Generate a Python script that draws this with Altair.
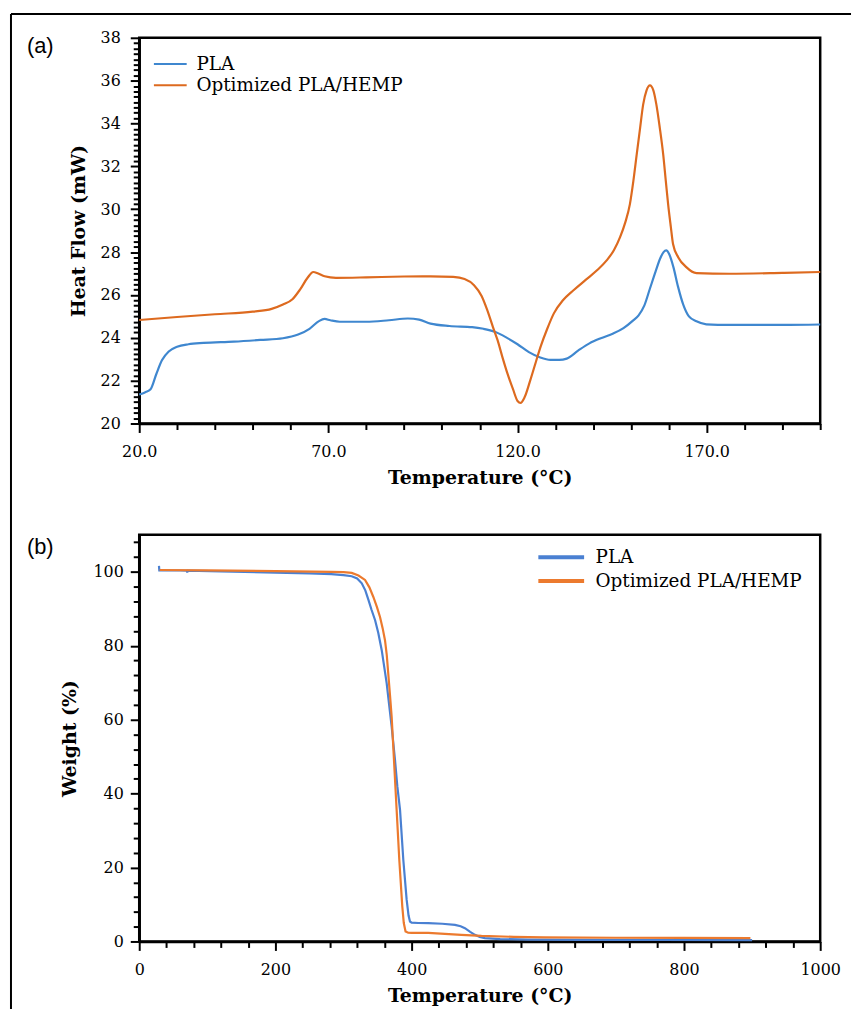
import altair as alt
import pandas as pd

# ---------------- data ----------------
series_names = ["PLA", "Optimized PLA/HEMP"]

# (a) DSC
dsc_pla_t = [20, 21.5, 23, 24.5, 26, 27.8, 30, 33, 37, 45, 52, 58, 62, 65, 67.5, 69, 70.5, 73,
             80, 86, 91, 94, 97, 102, 108, 111, 114, 117, 120, 123, 126, 128.7, 131, 133, 136,
             139, 142, 145.3, 148, 150.5, 152, 153.5, 155, 156.5, 157.7, 158.6, 159.3, 160.1,
             161.2, 162.4, 163.8, 165.3, 167.3, 169.9, 176, 190, 200]
dsc_pla_hf = [21.35, 21.45, 21.6, 22.3, 22.95, 23.36, 23.58, 23.7, 23.76, 23.82, 23.9, 23.98,
              24.15, 24.42, 24.78, 24.88, 24.82, 24.75, 24.75, 24.82, 24.9, 24.85, 24.66, 24.55,
              24.5, 24.42, 24.28, 24.02, 23.7, 23.33, 23.08, 22.97, 22.97, 23.03, 23.4, 23.74,
              23.98, 24.2, 24.45, 24.8, 25.05, 25.5, 26.3, 27.1, 27.7, 28.0, 28.08, 27.9,
              27.3, 26.4, 25.55, 25.0, 24.77, 24.63, 24.6, 24.6, 24.62]
dsc_hemp_t = [20, 30, 40, 50, 55, 58, 60.5, 62.5, 64.5, 66, 67.3, 69, 72, 80, 90, 97, 103, 106,
              108.5, 110.5, 112, 113.5, 114.7, 116, 117.3, 118.8, 120, 120.8, 121.8, 123.4,
              124.8, 126.1, 127.8, 129.6, 132, 134.8, 138, 141, 143.5, 145.5, 147.1, 148.5,
              149.7, 150.6, 151.5, 152.4, 153.2, 154.1, 155, 155.9, 156.7, 157.6, 158.5, 159.2,
              159.8, 160.5, 161.1, 162.5, 164.6, 167.3, 176, 190, 200]
dsc_hemp_hf = [24.83, 24.97, 25.1, 25.22, 25.35, 25.55, 25.8, 26.25, 26.8, 27.07, 27.0, 26.87,
               26.8, 26.82, 26.86, 26.87, 26.84, 26.74, 26.45, 25.95, 25.29, 24.5, 23.9, 23.1,
               22.35, 21.6, 21.05, 20.96, 21.2, 22.04, 22.85, 23.59, 24.4, 25.14, 25.75, 26.22,
               26.7, 27.15, 27.6, 28.1, 28.7, 29.4, 30.24, 31.3, 32.56, 33.8, 34.88, 35.55,
               35.78, 35.55, 34.88, 33.8, 32.56, 31.3, 30.24, 29.2, 28.38, 27.75, 27.3, 27.02,
               26.99, 27.03, 27.07]

# (b) TGA
tga_pla_t = [29, 29.5, 60, 70, 70.5, 71, 120, 200, 250, 282, 300, 312, 320, 326.8, 332, 336.6,
             341, 346.4, 351, 356.1, 360, 363.4, 367, 370.7, 375.6, 379, 383, 387.8, 392.7,
             395.5, 397.6, 400, 409.7, 424.5, 445, 463.7, 472, 478.3, 486, 493, 500, 507.6,
             530, 571, 650, 766, 900]
tga_pla_w = [101.6, 100.4, 100.35, 100.3, 99.8, 100.3, 100.1, 99.8, 99.6, 99.4, 99.1, 98.8,
             98.2, 96.9, 95.0, 92.4, 89.8, 86.9, 83.5, 78.8, 74.0, 69.8, 64.0, 58.1, 49.1, 42.0,
             35.6, 22.1, 11.3, 7.0, 5.4, 5.1, 5.0, 4.97, 4.8, 4.5, 4.1, 3.6, 2.6, 1.8, 1.2, 0.9,
             0.65, 0.5, 0.45, 0.4, 0.38]
tga_hemp_t = [30, 100, 200, 282, 300, 312, 322, 331.6, 338, 343.8, 349, 353.6, 357.5, 360.9,
              363.5, 365.7, 368.3, 370.7, 374.1, 378, 381.9, 386.3, 388.5, 391.1, 395, 400,
              424.5, 473, 502.6, 550, 595, 700, 800, 897.5]
tga_hemp_w = [100.5, 100.4, 100.2, 100.0, 99.9, 99.7, 99.0, 97.8, 95.8, 93.2, 90.5, 87.8, 84.7,
              81.5, 77.5, 72.5, 66.5, 60.8, 49.1, 35.6, 22.1, 9.5, 5.0, 2.7, 2.35, 2.3, 2.3, 1.8,
              1.5, 1.25, 1.1, 1.0, 0.95, 0.9]

# axis ticks
dsc_x_ticks = list(range(20, 201, 10))
dsc_y_ticks = [20 + 0.25 * i for i in range(73)]
tga_x_ticks = list(range(0, 1001, 40))
tga_y_ticks = list(range(0, 109, 4))
panel_labels = ["(a)", "(b)"]

dsc_colors = ["#3f87cf", "#dd6a1f"]
tga_colors = ["#4a80d2", "#ec7a2e"]


def frame(t, v, name):
    return pd.DataFrame({"T": t, "v": v, "series": name, "o": list(range(len(t)))})


dsc_df = pd.concat([frame(dsc_pla_t, dsc_pla_hf, series_names[0]),
                    frame(dsc_hemp_t, dsc_hemp_hf, series_names[1])])
tga_df = pd.concat([frame(tga_pla_t, tga_pla_w, series_names[0]),
                    frame(tga_hemp_t, tga_hemp_w, series_names[1])])

axis_common = dict(domainColor="black", domainWidth=2.5, tickColor="black", tickWidth=2,
                   labelColor="black", labelFont="DejaVu Serif", labelFontSize=16,
                   titleColor="black", titleFont="DejaVu Serif", titleFontSize=19,
                   titleFontWeight="bold", grid=False, labelOverlap=False, labelFlush=False)


def tick_size(test, major, minor):
    return {"condition": {"test": test, "value": major}, "value": minor}


LEGEND_PATH = "M-2.5,0H2.5"
W = 685

# ---------------- panel (a) ----------------
a_xtest = "(datum.value - 20) % 50 == 0"
a_ytest = "datum.value % 2 == 0"
a_lines = alt.Chart(dsc_df).mark_line(strokeWidth=2.2, interpolate="monotone").encode(
    x=alt.X("T:Q", scale=alt.Scale(domain=[20, 200], nice=False, zero=False),
            axis=alt.Axis(values=dsc_x_ticks, title="Temperature (°C)",
                          labelExpr=f"{a_xtest} ? format(datum.value, '.1f') : ''",
                          tickSize=tick_size(a_xtest, 9, 6), labelPadding=11,
                          titlePadding=9, **axis_common)),
    y=alt.Y("v:Q", scale=alt.Scale(domain=[20, 38], nice=False, zero=False),
            axis=alt.Axis(values=dsc_y_ticks, title="Heat Flow (mW)",
                          labelExpr=f"{a_ytest} ? format(datum.value, 'd') : ''",
                          tickSize=tick_size(a_ytest, 9, 6), labelPadding=10,
                          titlePadding=12, **axis_common)),
    color=alt.Color("series:N", scale=alt.Scale(domain=series_names, range=dsc_colors),
                    legend=alt.Legend(title=None, orient="none", legendX=22, legendY=17,
                                      symbolType=LEGEND_PATH, symbolSize=174,
                                      symbolStrokeWidth=2, labelFont="DejaVu Serif",
                                      labelFontSize=18.5, labelColor="black", labelOffset=17,
                                      labelLimit=0, rowPadding=2.5, padding=0)),
    order="o:Q",
)

one = pd.DataFrame({"k": [0]})
top_line = alt.Chart(one).mark_rule(color="black", strokeWidth=2).encode(
    x=alt.value(-129), x2=alt.value(716), y=alt.value(-24))
left_line = alt.Chart(one).mark_rule(color="black", strokeWidth=2).encode(
    x=alt.value(-129), y=alt.value(-24), y2=alt.value(977))
a_label = alt.Chart(pd.DataFrame({"label": [panel_labels[0]]})).mark_text(
    font="Liberation Sans", fontSize=22, align="left", baseline="alphabetic", color="black"
).encode(x=alt.value(-113), y=alt.value(15), text="label:N")

panel_a = alt.layer(a_lines, top_line, left_line, a_label).properties(width=W, height=388)

# ---------------- panel (b) ----------------
b_xtest = "datum.value % 200 == 0"
b_ytest = "datum.value % 20 == 0"
b_lines = alt.Chart(tga_df).mark_line(strokeWidth=2.2).encode(
    x=alt.X("T:Q", scale=alt.Scale(domain=[0, 1000], nice=False, zero=False),
            axis=alt.Axis(values=tga_x_ticks, title="Temperature (°C)",
                          labelExpr=f"{b_xtest} ? format(datum.value, 'd') : ''",
                          tickSize=tick_size(b_xtest, 9, 6), labelPadding=11,
                          titlePadding=9, **axis_common)),
    y=alt.Y("v:Q", scale=alt.Scale(domain=[0, 110], nice=False, zero=False),
            axis=alt.Axis(values=tga_y_ticks, title="Weight (%)",
                          labelExpr=f"{b_ytest} ? format(datum.value, 'd') : ''",
                          tickSize=tick_size(b_ytest, 9, 6), labelPadding=7,
                          titlePadding=14, **axis_common)),
    color=alt.Color("series:N", scale=alt.Scale(domain=series_names, range=tga_colors),
                    legend=alt.Legend(title=None, orient="none", legendX=413, legendY=11,
                                      symbolType=LEGEND_PATH, symbolSize=339,
                                      symbolStrokeWidth=4, labelFont="DejaVu Serif",
                                      labelFontSize=18.5, labelColor="black", labelOffset=23,
                                      labelLimit=0, rowPadding=3, padding=0)),
    order="o:Q",
)
b_label = alt.Chart(pd.DataFrame({"label": [panel_labels[1]]})).mark_text(
    font="Liberation Sans", fontSize=22, align="left", baseline="alphabetic", color="black"
).encode(x=alt.value(-113), y=alt.value(19), text="label:N")

panel_b = alt.layer(b_lines, b_label).properties(width=W, height=409)

chart = alt.vconcat(panel_a, panel_b, spacing=112, bounds="flush").resolve_scale(
    color="independent").resolve_legend(color="independent").properties(
    padding=0, background="white").configure_view(stroke="black", strokeWidth=2.5)

chart.save("out.html", embed_options={"renderer": "svg", "actions": False})
